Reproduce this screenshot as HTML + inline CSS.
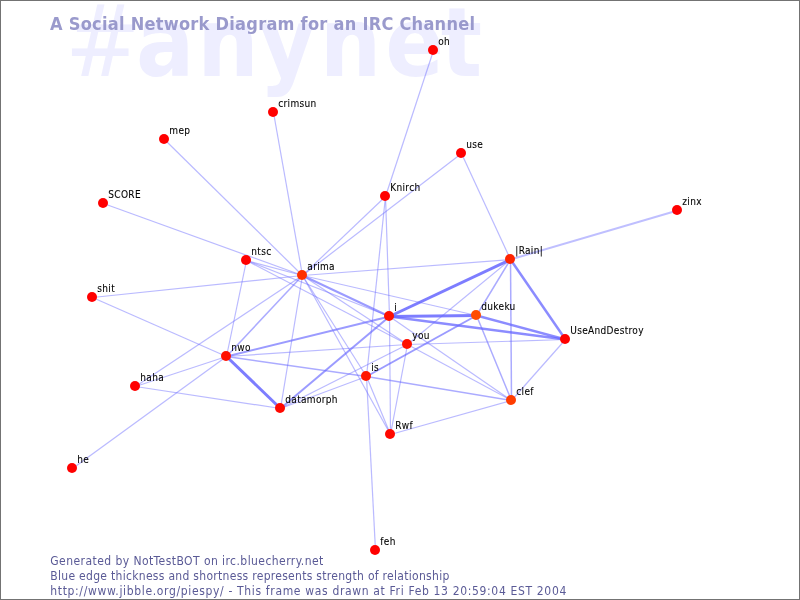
<!DOCTYPE html>
<html><head><meta charset="utf-8"><title>PieSpy #anynet</title>
<style>
html,body{margin:0;padding:0;background:#fff;}
svg{display:block;}
.wm{font-family:"DejaVu Sans","Liberation Sans",sans-serif;font-stretch:condensed;font-weight:bold;font-size:96px;fill:#eeeeff;}
.title{font-family:"DejaVu Sans","Liberation Sans",sans-serif;font-stretch:condensed;font-size:18px;font-weight:bold;fill:#9999cc;}
.lbl{opacity:0.99} .lbl text{font-family:"DejaVu Sans","Liberation Sans",sans-serif;font-stretch:condensed;font-size:10px;letter-spacing:0.32px;fill:#000;stroke:#000;stroke-width:0.1px;}
.foot{font-family:"DejaVu Sans","Liberation Sans",sans-serif;font-stretch:condensed;font-size:12px;fill:#5a5a96;}
</style></head><body>
<svg width="800" height="600" viewBox="0 0 800 600" style="will-change:transform">
<rect x="0.5" y="0.5" width="799" height="599" fill="#fff" stroke="#737373" stroke-width="1"/>
<text class="wm" transform="translate(72 76)" x="-6.9" y="0" style="font-weight:normal;font-size:100px">#</text><text class="wm" x="136.1 197.2 259 319.8 385.3 440.7" y="76">anynet</text>
<text class="title" opacity="0.99" x="50" y="30" textLength="425" lengthAdjust="spacing">A Social Network Diagram for an IRC Channel</text>
<g>
<line x1="433.5" y1="50.5" x2="385.5" y2="196.5" stroke="#6666ff" stroke-opacity="0.45" stroke-width="1.2"/>
<line x1="273.5" y1="112.5" x2="302.5" y2="275.5" stroke="#6666ff" stroke-opacity="0.45" stroke-width="1.2"/>
<line x1="164.5" y1="139.5" x2="302.5" y2="275.5" stroke="#6666ff" stroke-opacity="0.45" stroke-width="1.2"/>
<line x1="461.5" y1="153.5" x2="510.5" y2="259.5" stroke="#6666ff" stroke-opacity="0.45" stroke-width="1.2"/>
<line x1="461.5" y1="153.5" x2="302.5" y2="275.5" stroke="#6666ff" stroke-opacity="0.45" stroke-width="1.2"/>
<line x1="103.5" y1="203.5" x2="302.5" y2="275.5" stroke="#6666ff" stroke-opacity="0.45" stroke-width="1.2"/>
<line x1="385.5" y1="196.5" x2="389.5" y2="316.5" stroke="#6666ff" stroke-opacity="0.45" stroke-width="1.2"/>
<line x1="385.5" y1="196.5" x2="366.5" y2="376.5" stroke="#6666ff" stroke-opacity="0.45" stroke-width="1.2"/>
<line x1="385.5" y1="196.5" x2="302.5" y2="275.5" stroke="#6666ff" stroke-opacity="0.45" stroke-width="1.2"/>
<line x1="677.5" y1="210.5" x2="510.5" y2="259.5" stroke="#6666ff" stroke-opacity="0.42" stroke-width="2.0"/>
<line x1="92.5" y1="297.5" x2="302.5" y2="275.5" stroke="#6666ff" stroke-opacity="0.45" stroke-width="1.2"/>
<line x1="92.5" y1="297.5" x2="226.5" y2="356.5" stroke="#6666ff" stroke-opacity="0.45" stroke-width="1.2"/>
<line x1="135.5" y1="386.5" x2="302.5" y2="275.5" stroke="#6666ff" stroke-opacity="0.45" stroke-width="1.2"/>
<line x1="135.5" y1="386.5" x2="226.5" y2="356.5" stroke="#6666ff" stroke-opacity="0.45" stroke-width="1.2"/>
<line x1="135.5" y1="386.5" x2="280.5" y2="408.5" stroke="#6666ff" stroke-opacity="0.45" stroke-width="1.2"/>
<line x1="72.5" y1="468.5" x2="226.5" y2="356.5" stroke="#6666ff" stroke-opacity="0.45" stroke-width="1.2"/>
<line x1="246.5" y1="260.5" x2="226.5" y2="356.5" stroke="#6666ff" stroke-opacity="0.45" stroke-width="1.2"/>
<line x1="226.5" y1="356.5" x2="302.5" y2="275.5" stroke="#6666ff" stroke-opacity="0.55" stroke-width="1.5"/>
<line x1="226.5" y1="356.5" x2="280.5" y2="408.5" stroke="#6666ff" stroke-opacity="0.85" stroke-width="3.0"/>
<line x1="226.5" y1="356.5" x2="389.5" y2="316.5" stroke="#6666ff" stroke-opacity="0.65" stroke-width="2.0"/>
<line x1="226.5" y1="356.5" x2="407.5" y2="344.5" stroke="#6666ff" stroke-opacity="0.45" stroke-width="1.2"/>
<line x1="226.5" y1="356.5" x2="366.5" y2="376.5" stroke="#6666ff" stroke-opacity="0.55" stroke-width="1.5"/>
<line x1="302.5" y1="275.5" x2="280.5" y2="408.5" stroke="#6666ff" stroke-opacity="0.45" stroke-width="1.2"/>
<line x1="302.5" y1="275.5" x2="366.5" y2="376.5" stroke="#6666ff" stroke-opacity="0.45" stroke-width="1.2"/>
<line x1="302.5" y1="275.5" x2="390.5" y2="434.5" stroke="#6666ff" stroke-opacity="0.45" stroke-width="1.2"/>
<line x1="280.5" y1="408.5" x2="389.5" y2="316.5" stroke="#6666ff" stroke-opacity="0.65" stroke-width="2.0"/>
<line x1="280.5" y1="408.5" x2="407.5" y2="344.5" stroke="#6666ff" stroke-opacity="0.45" stroke-width="1.2"/>
<line x1="280.5" y1="408.5" x2="366.5" y2="376.5" stroke="#6666ff" stroke-opacity="0.45" stroke-width="1.2"/>
<line x1="375.5" y1="550.5" x2="366.5" y2="376.5" stroke="#6666ff" stroke-opacity="0.45" stroke-width="1.2"/>
<line x1="366.5" y1="376.5" x2="390.5" y2="434.5" stroke="#6666ff" stroke-opacity="0.45" stroke-width="1.2"/>
<line x1="407.5" y1="344.5" x2="390.5" y2="434.5" stroke="#6666ff" stroke-opacity="0.45" stroke-width="1.2"/>
<line x1="390.5" y1="434.5" x2="511.5" y2="400.5" stroke="#6666ff" stroke-opacity="0.45" stroke-width="1.2"/>
<line x1="390.5" y1="434.5" x2="389.5" y2="316.5" stroke="#6666ff" stroke-opacity="0.45" stroke-width="1.2"/>
<line x1="389.5" y1="316.5" x2="476.5" y2="315.5" stroke="#6666ff" stroke-opacity="0.85" stroke-width="3.0"/>
<line x1="389.5" y1="316.5" x2="510.5" y2="259.5" stroke="#6666ff" stroke-opacity="0.85" stroke-width="3.0"/>
<line x1="389.5" y1="316.5" x2="565.5" y2="339.5" stroke="#6666ff" stroke-opacity="0.75" stroke-width="2.5"/>
<line x1="476.5" y1="315.5" x2="565.5" y2="339.5" stroke="#6666ff" stroke-opacity="0.75" stroke-width="2.5"/>
<line x1="510.5" y1="259.5" x2="565.5" y2="339.5" stroke="#6666ff" stroke-opacity="0.75" stroke-width="2.5"/>
<line x1="510.5" y1="259.5" x2="511.5" y2="400.5" stroke="#6666ff" stroke-opacity="0.55" stroke-width="1.5"/>
<line x1="510.5" y1="259.5" x2="302.5" y2="275.5" stroke="#6666ff" stroke-opacity="0.45" stroke-width="1.2"/>
<line x1="476.5" y1="315.5" x2="511.5" y2="400.5" stroke="#6666ff" stroke-opacity="0.55" stroke-width="1.5"/>
<line x1="302.5" y1="275.5" x2="389.5" y2="316.5" stroke="#6666ff" stroke-opacity="0.65" stroke-width="2.0"/>
<line x1="302.5" y1="275.5" x2="476.5" y2="315.5" stroke="#6666ff" stroke-opacity="0.45" stroke-width="1.2"/>
<line x1="510.5" y1="259.5" x2="407.5" y2="344.5" stroke="#6666ff" stroke-opacity="0.45" stroke-width="1.2"/>
<line x1="246.5" y1="260.5" x2="407.5" y2="344.5" stroke="#6666ff" stroke-opacity="0.45" stroke-width="1.2"/>
<line x1="476.5" y1="315.5" x2="510.5" y2="259.5" stroke="#6666ff" stroke-opacity="0.55" stroke-width="1.5"/>
<line x1="476.5" y1="315.5" x2="366.5" y2="376.5" stroke="#6666ff" stroke-opacity="0.65" stroke-width="2.0"/>
<line x1="407.5" y1="344.5" x2="565.5" y2="339.5" stroke="#6666ff" stroke-opacity="0.45" stroke-width="1.2"/>
<line x1="565.5" y1="339.5" x2="511.5" y2="400.5" stroke="#6666ff" stroke-opacity="0.45" stroke-width="1.2"/>
<line x1="407.5" y1="344.5" x2="511.5" y2="400.5" stroke="#6666ff" stroke-opacity="0.45" stroke-width="1.2"/>
<line x1="366.5" y1="376.5" x2="511.5" y2="400.5" stroke="#6666ff" stroke-opacity="0.55" stroke-width="1.5"/>
<line x1="389.5" y1="316.5" x2="511.5" y2="400.5" stroke="#6666ff" stroke-opacity="0.45" stroke-width="1.2"/>
<line x1="302.5" y1="275.5" x2="407.5" y2="344.5" stroke="#6666ff" stroke-opacity="0.45" stroke-width="1.2"/>
<line x1="246.5" y1="260.5" x2="389.5" y2="316.5" stroke="#6666ff" stroke-opacity="0.45" stroke-width="1.2"/>
<line x1="246.5" y1="260.5" x2="302.5" y2="275.5" stroke="#6666ff" stroke-opacity="0.45" stroke-width="1.2"/>
</g>
<g>
<circle cx="433" cy="50" r="5" fill="#ff0000"/>
<circle cx="273" cy="112" r="5" fill="#ff0000"/>
<circle cx="164" cy="139" r="5" fill="#ff0000"/>
<circle cx="461" cy="153" r="5" fill="#ff0000"/>
<circle cx="103" cy="203" r="5" fill="#ff0000"/>
<circle cx="385" cy="196" r="5" fill="#ff0000"/>
<circle cx="677" cy="210" r="5" fill="#ff0000"/>
<circle cx="246" cy="260" r="5" fill="#ff0000"/>
<circle cx="510" cy="259" r="5" fill="#ff2400"/>
<circle cx="302" cy="275" r="5" fill="#ff3000"/>
<circle cx="92" cy="297" r="5" fill="#ff0000"/>
<circle cx="389" cy="316" r="5" fill="#ff1000"/>
<circle cx="476" cy="315" r="5" fill="#ff4b00"/>
<circle cx="565" cy="339" r="5" fill="#ff0000"/>
<circle cx="407" cy="344" r="5" fill="#ff1000"/>
<circle cx="226" cy="356" r="5" fill="#ff1000"/>
<circle cx="366" cy="376" r="5" fill="#ff1800"/>
<circle cx="135" cy="386" r="5" fill="#ff0000"/>
<circle cx="511" cy="400" r="5" fill="#ff3c00"/>
<circle cx="280" cy="408" r="5" fill="#ff0800"/>
<circle cx="390" cy="434" r="5" fill="#ff0800"/>
<circle cx="72" cy="468" r="5" fill="#ff0000"/>
<circle cx="375" cy="550" r="5" fill="#ff0000"/>
</g>
<g class="lbl">
<text x="438.3" y="45">oh</text>
<text x="278.3" y="107">crimsun</text>
<text x="169.3" y="134">mep</text>
<text x="466.3" y="148">use</text>
<text x="108.3" y="198">SCORE</text>
<text x="390.3" y="191">Knirch</text>
<text x="682.3" y="205">zinx</text>
<text x="251.3" y="255">ntsc</text>
<text x="515.3" y="254">|Rain|</text>
<text x="307.3" y="270">arima</text>
<text x="97.3" y="292">shit</text>
<text x="394.3" y="311">i</text>
<text x="481.3" y="310">dukeku</text>
<text x="570.3" y="334">UseAndDestroy</text>
<text x="412.3" y="339">you</text>
<text x="231.3" y="351">nwo</text>
<text x="371.3" y="371">is</text>
<text x="140.3" y="381">haha</text>
<text x="516.3" y="395">clef</text>
<text x="285.3" y="403">datamorph</text>
<text x="395.3" y="429">Rwf</text>
<text x="77.3" y="463">he</text>
<text x="380.3" y="545">feh</text>
</g>
<text class="foot" x="50.3" y="564.5" textLength="273" lengthAdjust="spacing">Generated by NotTestBOT on irc.bluecherry.net</text>
<text class="foot" x="50.3" y="579.5" textLength="399" lengthAdjust="spacing">Blue edge thickness and shortness represents strength of relationship</text>
<text class="foot" x="50.3" y="594.5" textLength="516" lengthAdjust="spacing">http://www.jibble.org/piespy/ - This frame was drawn at Fri Feb 13 20:59:04 EST 2004</text>
</svg>
</body></html>
